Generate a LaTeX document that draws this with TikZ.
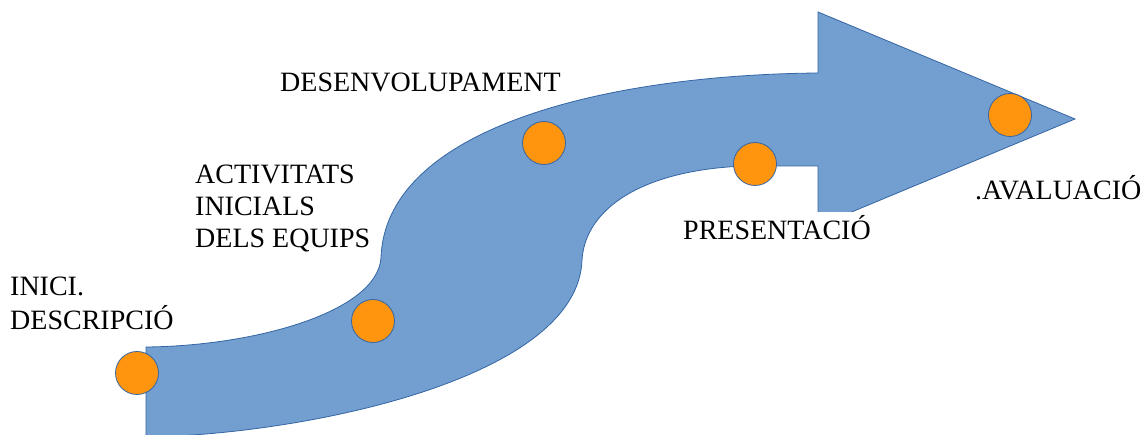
\documentclass[tikz,border=0pt]{standalone}
\usepackage{fontspec}
\setmainfont{Liberation Serif}
\definecolor{arrowblue}{HTML}{729FCF}
\definecolor{edgeblue}{HTML}{3465A4}
\definecolor{dotorange}{HTML}{FF950E}
\tikzset{
  milestone/.style={circle, fill=dotorange, draw=edgeblue, line width=0.8pt, minimum size=43pt, inner sep=0pt},
  steplabel/.style={anchor=base west, inner sep=0pt, font=\fontsize{28}{32}\selectfont},
}
\begin{document}
\begin{tikzpicture}[x=1pt,y=-1pt]
\useasboundingbox (0,0) rectangle (1144,435);
\clip (0,0) rectangle (1144,435);
% S-shaped arrow
\fill[arrowblue, draw=edgeblue, line width=0.8pt]
  (146,347) .. controls (255,346) and (377,312) .. (381,258)
  .. controls (385,130) and (600,75) .. (818,73)
  -- (818,12) -- (1075,119) -- (818,226) -- (818,166) -- (745,166)
  .. controls (640,170) and (585,210) .. (582,260)
  .. controls (578,380) and (300,435) .. (146,437)
  -- (146,440) -- cycle;
% milestones
\node[milestone] (m1) at (137,373) {};
\node[milestone] (m2) at (373,321) {};
\node[milestone] (m3) at (544,143) {};
\node[milestone] (m4) at (755,164) {};
\node[milestone] (m5) at (1010,115) {};
% labels
\node[steplabel] (l1) at (10,296) {\renewcommand\arraystretch{1}\begin{tabular}[t]{@{}l@{}}INICI.\\DESCRIPCIÓ\end{tabular}};
\node[steplabel] (l2) at (195,184) {\begin{tabular}[t]{@{}l@{}}ACTIVITATS\\INICIALS\\DELS EQUIPS\end{tabular}};
\node[steplabel] (l3) at (280,92) {DESENVOLUPAMENT};
\fill[white] (680,212) rectangle (872,250);
\node[steplabel] (l4) at (683,240) {PRESENTACIÓ};
\node[steplabel] (l5) at (975,200) {.AVALUACIÓ};
\end{tikzpicture}
\end{document}
